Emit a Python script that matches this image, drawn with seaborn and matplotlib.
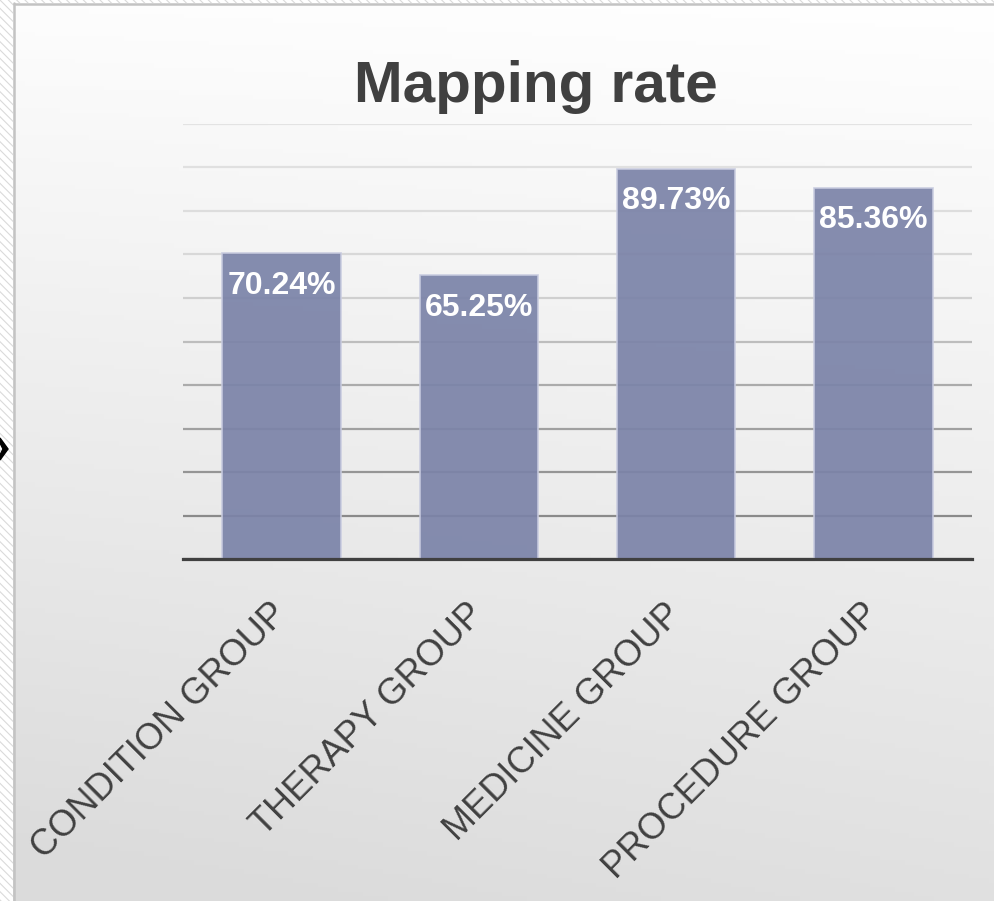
import numpy as np
import pandas as pd
import seaborn as sns
import matplotlib.pyplot as plt
from matplotlib.patches import Rectangle, Polygon
from matplotlib.colors import to_rgb

# data
categories = ["CONDITION GROUP", "THERAPY GROUP", "MEDICINE GROUP", "PROCEDURE GROUP"]
rates = [70.24, 65.25, 89.73, 85.36]
labels = ["70.24%", "65.25%", "89.73%", "85.36%"]

df = pd.DataFrame({"group": categories, "rate": rates})

sns.set_style("white")
plt.rcParams["font.family"] = ["Liberation Sans", "DejaVu Sans"]

W, H = 994, 901
fig = plt.figure(figsize=(W / 100, H / 100), dpi=100)

# gradient background
bg = fig.add_axes([0, 0, 1, 1], zorder=-5)
yy, xx = np.mgrid[0:1:200j, 0:1:200j]
t = np.clip(0.85 * yy + 0.15 * (1 - xx) * yy + 0.05 * (1 - xx), 0, 1)
top, bot = np.array(to_rgb("#ffffff")), np.array(to_rgb("#dbdbdb"))
img = top[None, None, :] * (1 - t[..., None]) + bot[None, None, :] * t[..., None]
bg.imshow(img, extent=[0, 1, 0, 1], aspect="auto", origin="upper")
bg.set_xlim(0, 1)
bg.set_ylim(0, 1)
bg.axis("off")

# hatched frame strip on the left / top
px = lambda v: v / W
py = lambda v: 1 - v / H
plt.rcParams["hatch.linewidth"] = 0.8
for rect in [(0, 0, px(13), 1), (0, py(3), 1, 3 / H)]:
    fig.patches.append(Rectangle(rect[:2], rect[2], rect[3], transform=fig.transFigure,
                                 facecolor="white", edgecolor="#dadada", hatch="\\\\\\\\",
                                 linewidth=0, zorder=-4))
fig.add_artist(plt.Line2D([px(14), px(14)], [0, py(3)], color="#c3c3c3", lw=1.8,
                          transform=fig.transFigure))
fig.add_artist(plt.Line2D([px(14), 1], [py(4), py(4)], color="#c3c3c3", lw=1.8,
                          transform=fig.transFigure))
fig.add_artist(Polygon([[0, py(438)], [px(8), py(449)], [0, py(460)], [0, py(455)],
                        [px(3), py(449)], [0, py(443)]], closed=True, color="black",
                       transform=fig.transFigure))

ax = fig.add_axes([183 / W, 1 - 559 / H, 789 / W, (559 - 124) / H])
ax.patch.set_alpha(0)

sns.barplot(data=df, x="group", y="rate", color="#7b83a8", saturation=1, width=0.6,
            alpha=0.92, edgecolor="#c9cce0", linewidth=1.2, ax=ax, zorder=3)

ax.set_ylim(0, 100)
ax.set_yticks(np.arange(0, 101, 10))
ax.set_yticklabels([])
ax.tick_params(axis="y", length=0)
ax.set_axisbelow(True)
ax.yaxis.grid(True, linewidth=1.6)
grid_colors = ["#8a8a8a", "#8a8a8a", "#959595", "#a0a0a0", "#ababab", "#bdbdbd",
               "#cfcfcf", "#d8d8d8", "#dddddd", "#e0e0e0", "#e3e3e3"]
for gl, c in zip(ax.yaxis.get_gridlines(), grid_colors):
    gl.set_color(c)

for s in ["left", "right", "top"]:
    ax.spines[s].set_visible(False)
ax.spines["bottom"].set_color("#404040")
ax.spines["bottom"].set_linewidth(2.3)
ax.spines["bottom"].set_zorder(4)

ax.set_xlabel("")
ax.set_ylabel("")
ax.tick_params(axis="x", length=0, pad=36)
ax.set_xticks(range(len(categories)))
ax.set_xticklabels(categories, rotation=45, ha="right", va="center",
                   rotation_mode="anchor", fontsize=26, color="#404040")

for i, (v, lab) in enumerate(zip(rates, labels)):
    ax.annotate(lab, xy=(i, v), xytext=(0, -12.5), textcoords="offset points",
                ha="center", va="top", fontsize=23, fontweight="bold",
                color="white", zorder=5)

fig.text(536 / W, 1 - 102 / H, "Mapping rate", ha="center", va="baseline",
         fontsize=42, fontweight="bold", color="#404040")

fig.savefig("out.png", dpi=100)
